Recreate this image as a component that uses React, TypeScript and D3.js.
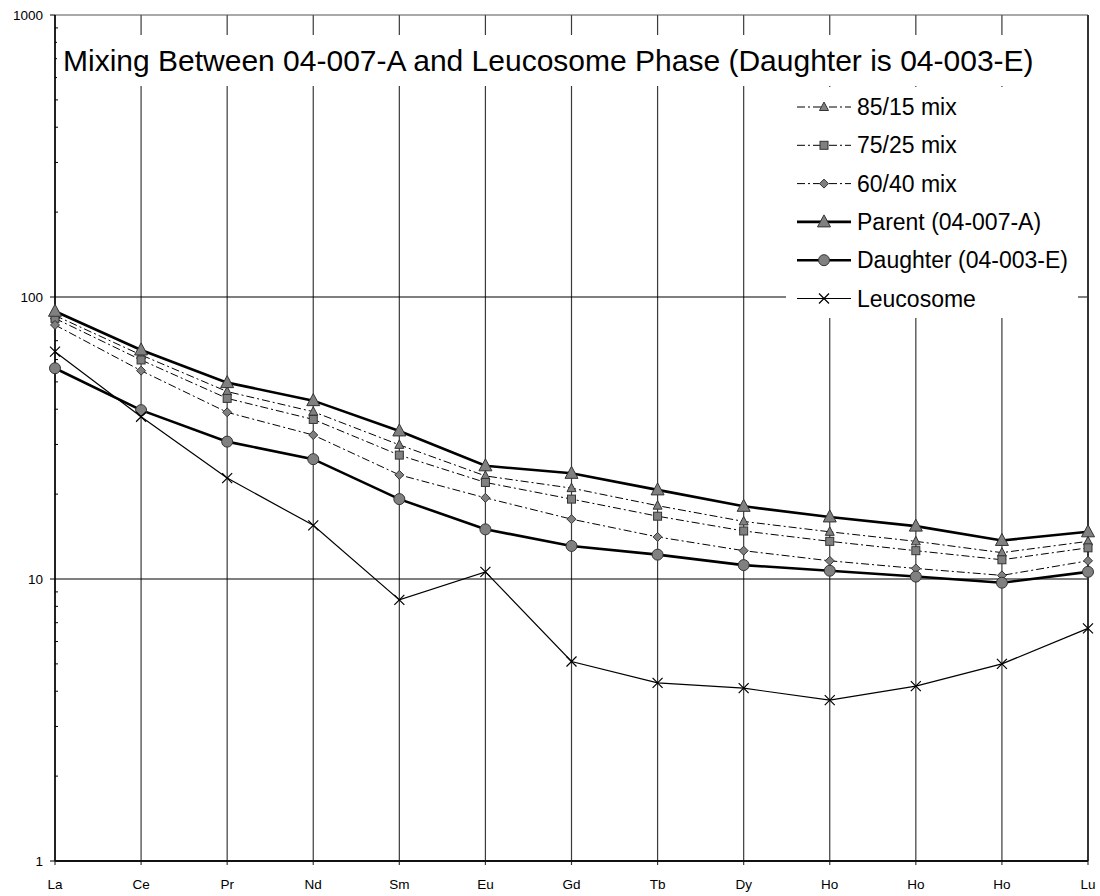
import React from "react";
import * as d3 from "d3";

const categories = ["La", "Ce", "Pr", "Nd", "Sm", "Eu", "Gd", "Tb", "Dy", "Ho", "Ho", "Ho", "Lu"];
const mix85 = [86, 62.3, 46.2, 39.2, 29.9, 23.2, 21.0, 18.2, 16.0, 14.7, 13.6, 12.4, 13.6];
const mix75 = [84, 59.8, 43.7, 36.8, 27.5, 22.0, 19.2, 16.7, 14.8, 13.6, 12.6, 11.7, 12.9];
const mix60 = [79.6, 54.8, 39.0, 32.4, 23.4, 19.4, 16.3, 14.1, 12.6, 11.6, 10.9, 10.3, 11.6];
const parent = [89, 64.9, 49.7, 42.9, 33.5, 25.2, 23.7, 20.7, 18.1, 16.6, 15.4, 13.7, 14.7];
const daughter = [55.9, 39.7, 30.7, 26.6, 19.2, 15.0, 13.1, 12.2, 11.2, 10.7, 10.2, 9.7, 10.6];
const leucosome = [64.0, 37.6, 22.8, 15.5, 8.43, 10.6, 5.1, 4.28, 4.1, 3.72, 4.17, 5.0, 6.68];
const yTicks = [1, 10, 100, 1000];
const title = "Mixing Between 04-007-A and Leucosome Phase (Daughter is 04-003-E)";

type Series = { name: string; values: number[]; marker: string; width: number; dash?: string };
const series: Series[] = [
  { name: "85/15 mix", values: mix85, marker: "triSmall", width: 1, dash: "8,3,2,3" },
  { name: "75/25 mix", values: mix75, marker: "square", width: 1, dash: "8,3,2,3" },
  { name: "60/40 mix", values: mix60, marker: "diamond", width: 1, dash: "8,3,2,3" },
  { name: "Parent (04-007-A)", values: parent, marker: "triBig", width: 2.6 },
  { name: "Daughter (04-003-E)", values: daughter, marker: "circle", width: 2.6 },
  { name: "Leucosome", values: leucosome, marker: "x", width: 1.2 },
];

const FILL = "#808080";
const EDGE = "#333333";

function Marker({ type, x, y }: { type: string; x: number; y: number }) {
  switch (type) {
    case "triBig":
      return <path d={`M${x},${y - 7} L${x + 6.5},${y + 5} L${x - 6.5},${y + 5} Z`} fill={FILL} stroke={EDGE} strokeWidth={1} />;
    case "triSmall":
      return <path d={`M${x},${y - 5} L${x + 4.5},${y + 3.5} L${x - 4.5},${y + 3.5} Z`} fill={FILL} stroke={EDGE} strokeWidth={1} />;
    case "square":
      return <rect x={x - 4} y={y - 4} width={8} height={8} fill={FILL} stroke={EDGE} strokeWidth={1} />;
    case "diamond":
      return <path d={`M${x},${y - 4.5} L${x + 4.5},${y} L${x},${y + 4.5} L${x - 4.5},${y} Z`} fill={FILL} stroke={EDGE} strokeWidth={1} />;
    case "circle":
      return <circle cx={x} cy={y} r={5.5} fill={FILL} stroke={EDGE} strokeWidth={1} />;
    case "x":
      return <path d={`M${x - 5},${y - 5} L${x + 5},${y + 5} M${x + 5},${y - 5} L${x - 5},${y + 5}`} stroke="#000" strokeWidth={1.2} fill="none" />;
    default:
      return null;
  }
}

export default function App() {
  const W = 1100, H = 896;
  const left = 55, right = 1088, top = 15, bottom = 861;
  const idx = d3.range(categories.length);
  const x = d3.scalePoint<number>().domain(idx).range([left, right]);
  const y = d3.scaleLog().domain([1, 1000]).range([bottom, top]);
  const line = d3.line<number>().x((_, i) => x(i) as number).y((v) => y(v));
  const minor: number[] = [];
  for (const dec of [1, 10, 100]) for (let k = 2; k <= 9; k++) minor.push(dec * k);

  const legX = 786, legY = 87, legW = 292, legH = 231;
  const font = "'Liberation Sans', Arial, sans-serif";

  return (
    <svg width={W} height={H} style={{ position: "absolute", left: 0, top: 0, background: "#fff" }} fontFamily={font}>
      <rect x={0} y={0} width={W} height={H} fill="#fff" />
      {idx.map((i) => (
        <line key={"vg" + i} x1={x(i)} x2={x(i)} y1={top} y2={bottom + 4} stroke="#3a3a3a" strokeWidth={1.2} />
      ))}
      {[10, 100].map((v) => (
        <line key={"hg" + v} x1={left} x2={right} y1={y(v)} y2={y(v)} stroke="#000" strokeWidth={1.2} />
      ))}
      <line x1={left} x2={right} y1={top} y2={top} stroke="#555" strokeWidth={1.2} />
      <line x1={right} x2={right} y1={top} y2={bottom} stroke="#333" strokeWidth={2} />
      <line x1={left} x2={left} y1={top} y2={bottom} stroke="#000" strokeWidth={1.5} />
      <line x1={left} x2={right} y1={bottom} y2={bottom} stroke="#111" strokeWidth={2.2} />
      {yTicks.map((v) => (
        <g key={"yt" + v}>
          <line x1={left - 5} x2={left} y1={y(v)} y2={y(v)} stroke="#000" strokeWidth={1} />
          <text x={left - 12} y={y(v)} dy="0.35em" textAnchor="end" fontSize={13.5}>{v}</text>
        </g>
      ))}
      {minor.map((v) => (
        <line key={"mt" + v} x1={left} x2={left + 3} y1={y(v)} y2={y(v)} stroke="#000" strokeWidth={1} />
      ))}
      {idx.map((i) => (
        <text key={"xl" + i} x={x(i)} y={889} textAnchor="middle" fontSize={13.5}>{categories[i]}</text>
      ))}
      {series.map((s) => (
        <path key={"l" + s.name} d={line(s.values) || ""} fill="none" stroke="#000" strokeWidth={s.width} strokeDasharray={s.dash} />
      ))}
      {series.map((s) => (
        <g key={"m" + s.name}>
          {s.values.map((v, i) => (
            <Marker key={i} type={s.marker} x={x(i) as number} y={y(v)} />
          ))}
        </g>
      ))}
      <rect x={57} y={35} width={985} height={51} fill="#fff" />
      <text x={63} y={71} fontSize={30} fill="#000">{title}</text>
      <rect x={legX} y={legY} width={legW} height={legH} fill="#fff" />
      {series.map((s, i) => {
        const cy = legY + 20 + i * 38.3;
        return (
          <g key={"lg" + s.name}>
            <line x1={797} x2={851} y1={cy} y2={cy} stroke="#000" strokeWidth={s.width} strokeDasharray={s.dash} />
            <Marker type={s.marker} x={824} y={cy} />
            <text x={857} y={cy} dy="0.35em" fontSize={23}>{s.name}</text>
          </g>
        );
      })}
    </svg>
  );
}
